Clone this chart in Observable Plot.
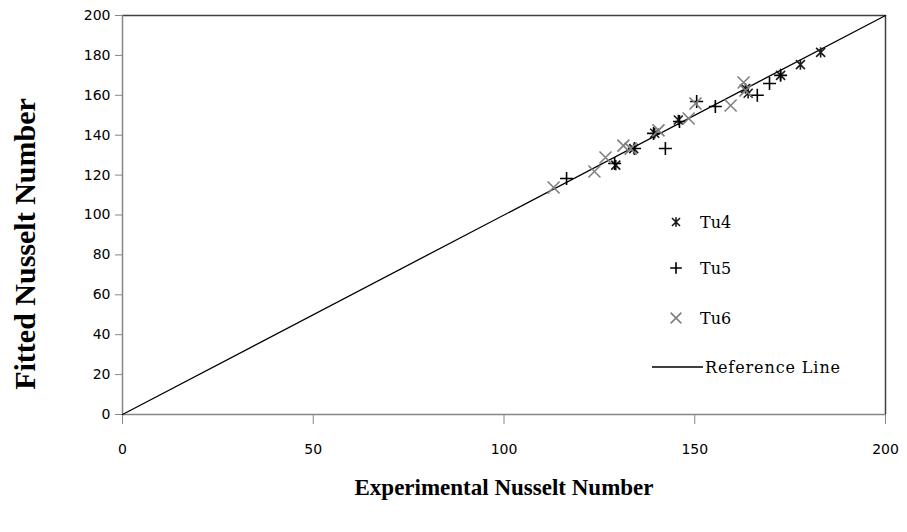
<!DOCTYPE html>
<html>
<head>
<meta charset="utf-8">
<script src="https://cdn.jsdelivr.net/npm/d3@7"></script>
<script src="https://cdn.jsdelivr.net/npm/@observablehq/plot@0.6"></script>
<style>
  html, body { margin: 0; padding: 0; background: #fff; }
  #wrap { position: relative; width: 907px; height: 532px; }
  #legend { position: absolute; left: 0; top: 0; }
</style>
</head>
<body>
<div id="wrap"></div>
<script>
// ---- data ----
const xTicks = [0, 50, 100, 150, 200];
const yTicks = [0, 20, 40, 60, 80, 100, 120, 140, 160, 180, 200];
const refLine = [0, 200];
const seriesNames = ["Tu4", "Tu5", "Tu6"];
const refLabel = "Reference Line";
const xTitle = "Experimental Nusselt Number";
const yTitle = "Fitted Nusselt Number";

const tu4X = [129.3, 134.0, 139.5, 145.7, 163.3, 164.0, 172.5, 177.7, 183.0];
const tu4Y = [125.0, 133.3, 141.0, 147.6, 163.4, 161.0, 170.0, 175.4, 181.5];
const tu5X = [116.4, 129.0, 134.2, 139.2, 142.3, 146.0, 150.5, 155.4, 166.4, 169.6, 172.5];
const tu5Y = [118.3, 125.8, 133.3, 140.9, 133.3, 146.9, 156.9, 154.4, 160.0, 165.9, 170.0];
const tu6X = [113.0, 123.7, 126.6, 131.3, 133.2, 140.5, 148.4, 150.2, 159.4, 162.8, 163.3];
const tu6Y = [113.8, 121.8, 128.8, 134.8, 133.3, 142.4, 148.4, 155.9, 154.9, 166.4, 162.4];

// ---- symbols ----
const star = { draw(ctx, size) { const r = Math.sqrt(size / Math.PI) * 0.75;
  ctx.moveTo(-r, -r); ctx.lineTo(r, r); ctx.moveTo(r, -r); ctx.lineTo(-r, r);
  ctx.moveTo(0, -r * 1.15); ctx.lineTo(0, r * 1.15); } };
const plus = { draw(ctx, size) { const r = Math.sqrt(size / Math.PI);
  ctx.moveTo(-r, 0); ctx.lineTo(r, 0); ctx.moveTo(0, -r); ctx.lineTo(0, r); } };
const times = { draw(ctx, size) { const r = Math.sqrt(size / Math.PI) * 0.8;
  ctx.moveTo(-r, -r); ctx.lineTo(r, r); ctx.moveTo(r, -r); ctx.lineTo(-r, r); } };

const symbols = [star, plus, times];
const colors = ["#1a1a1a", "#000000", "#7f7f7f"];
const rs = [6, 6.5, 7.5];

const toPts = (xs, ys) => xs.map((x, i) => ({x, y: ys[i]}));
const sets = [toPts(tu4X, tu4Y), toPts(tu5X, tu5Y), toPts(tu6X, tu6Y)];

const plot = Plot.plot({
  width: 907, height: 532,
  marginLeft: 122, marginRight: 22, marginTop: 15, marginBottom: 118,
  x: {domain: [0, 200]},
  y: {domain: [0, 200]},
  style: {fontFamily: "DejaVu Sans", fontSize: "14px", color: "#000", background: "#fff"},
  marks: [
    Plot.ruleY([200], {stroke: "#404040", strokeWidth: 1.5}),
    Plot.ruleX([200], {stroke: "#404040", strokeWidth: 1.5}),
    Plot.ruleX([0], {stroke: "#868686", strokeWidth: 1.5}),
    Plot.ruleY([0], {stroke: "#868686", strokeWidth: 1.5}),
    Plot.axisX({ticks: xTicks, tickSize: 10, tickPadding: 20, stroke: "#868686", fill: "#000", fontSize: 14, label: null, tickFormat: d => d}),
    Plot.axisY({ticks: yTicks, tickSize: 7, tickPadding: 5, stroke: "#868686", fill: "#000", fontSize: 14, label: null, tickFormat: d => d}),
    Plot.line(refLine.map(v => ({x: v, y: v})), {x: "x", y: "y", stroke: "#000", strokeWidth: 1.3}),
    ...sets.map((pts, i) => Plot.dot(pts, {x: "x", y: "y", symbol: symbols[i], r: rs[i], stroke: colors[i], strokeWidth: 1.6})),
    Plot.text([xTitle], {frameAnchor: "bottom", dy: 73, text: d => d, fontFamily: "Liberation Serif", fontWeight: "bold", fontSize: 23, fill: "#000", lineAnchor: "middle"}),
    Plot.text([yTitle], {frameAnchor: "left", textAnchor: "middle", rotate: -90, dx: -97, dy: 29, text: d => d, fontFamily: "Liberation Serif", fontWeight: "bold", fontSize: 30, fill: "#000", lineAnchor: "middle"})
  ]
});
document.getElementById("wrap").appendChild(plot);

// ---- legend overlay ----
const leg = d3.select("#wrap").append("svg").attr("id", "legend")
  .attr("width", 907).attr("height", 532);
const legY = [222, 268, 318];
seriesNames.forEach((name, i) => {
  const sz = Math.PI * rs[i] * rs[i] * 0.8;
  leg.append("path").attr("transform", `translate(676,${legY[i]})`)
    .attr("d", d3.symbol(symbols[i], sz)())
    .attr("fill", "none").attr("stroke", colors[i]).attr("stroke-width", 1.6);
  leg.append("text").attr("x", 700).attr("y", legY[i] + 6)
    .attr("font-family", "DejaVu Serif").attr("font-size", 16).text(name);
});
leg.append("line").attr("x1", 652).attr("x2", 703).attr("y1", 367).attr("y2", 367)
  .attr("stroke", "#000").attr("stroke-width", 1.3);
leg.append("text").attr("x", 705).attr("y", 373)
  .attr("font-family", "DejaVu Serif").attr("font-size", 16).attr("letter-spacing", 0.9).text(refLabel);
</script>
</body>
</html>
